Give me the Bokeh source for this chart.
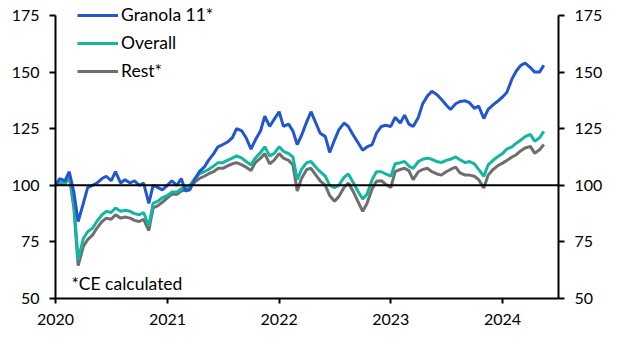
from datetime import datetime
from bokeh.plotting import figure
from bokeh.models import (ColumnDataSource, Range1d, LinearAxis, FixedTicker,
                          DatetimeTickFormatter, Span, Label, Legend, LegendItem)
from bokeh.embed import file_html
from bokeh.resources import INLINE

# semi-monthly observation dates (1st and 15th), Jan 2020 .. mid-May 2024
years = [2020, 2021, 2022, 2023, 2024]
dates = [datetime(y, m, d) for y in years for m in range(1, 13) for d in (1, 15)
         if datetime(y, m, d) <= datetime(2024, 5, 15)]

granola = [
    # 2020
    100, 103, 102, 106, 97, 84, 92, 99, 100, 101, 103, 104, 102, 106, 101, 102.5, 101, 102, 100, 101, 92, 100, 99, 98,
    # 2021
    100, 102, 100, 103, 97.5, 98, 103, 106, 108, 111, 114, 117, 118, 119, 121, 125, 124, 121, 116, 120, 124, 130.5, 126, 129,
    # 2022
    132.5, 126, 127, 124, 118, 122, 128, 132.5, 127.5, 123, 121.5, 114.5, 120, 124.5, 127.5, 126, 122, 119, 115.5, 117, 118, 123, 126, 126.5,
    # 2023
    126, 130, 127.5, 131, 127, 126, 130, 136, 139.5, 141.5, 140, 138, 135.5, 133.5, 136, 137, 137.3, 136.5, 134, 135, 129.5, 133.5, 135.5, 137,
    # 2024
    139, 141, 147, 150.5, 153, 154, 152, 150, 150, 153,
]
overall = [
    # 2020
    100, 101.5, 101, 104.5, 92, 67, 76.5, 79.5, 81, 84, 87, 88.5, 88, 90, 88.5, 89, 88.5, 87.5, 87, 88, 82, 92, 93, 94.5,
    # 2021
    95.5, 97, 97, 98.5, 99, 100, 103, 105, 106, 107, 108.5, 110, 110, 111, 112, 113, 112, 110.5, 109, 112, 114.5, 117, 113, 114,
    # 2022
    117, 115, 114, 112.5, 102.5, 107, 110, 110.5, 108, 106, 104, 100, 99, 100, 103.5, 105, 101, 97.5, 94, 96, 102.5, 106, 106, 105,
    # 2023
    104, 109.5, 110, 110.5, 108.5, 107.5, 110.5, 111.5, 112, 111.5, 110.5, 110, 111, 111.5, 112.5, 111.3, 110, 110.5, 109.5, 107, 104, 109, 111, 112.5,
    # 2024
    114, 116, 117, 118.6, 120, 121.5, 122.5, 119.5, 121, 123.8,
]
rest = [
    # 2020
    100, 101, 100.5, 104, 90, 64.5, 73, 76, 78, 81, 84, 85.5, 85, 87, 85.5, 86, 85.5, 84.5, 84, 85, 80, 90, 91, 92.5,
    # 2021
    94.5, 96, 96, 97.5, 98, 99, 101.5, 103, 104, 105, 106, 107.5, 107.5, 108.5, 109.5, 110, 109, 108, 106.5, 110, 112, 114, 109.5, 111,
    # 2022
    114, 112, 111, 109, 97.5, 103, 107, 107.5, 104.5, 102, 100, 95.5, 93, 95, 99, 101, 97, 93, 88.5, 92, 98.5, 101.8, 102, 100.5,
    # 2023
    99, 106, 107, 107.5, 106.5, 102.5, 106, 107, 107.5, 106, 105, 104.5, 106, 107, 108, 105.5, 104.5, 104.5, 104, 102.5, 98.8, 104.5, 107, 108.5,
    # 2024
    109.8, 111, 112.5, 113.5, 115.3, 116.5, 117.2, 114.2, 115.7, 118,
]
series_names = ["Granola 11*", "Overall", "Rest*"]
series_colors = ["#2256D0", "#14B5A2", "#6E6E6E"]
y_ticks = [50, 75, 100, 125, 150, 175]
x_tick_years = [2020, 2021, 2022, 2023, 2024]
note = "*CE calculated"

FONT = "Lato"
FS = "16px"
FS_TEXT = "17.5px"

src = ColumnDataSource(dict(x=dates, g=granola, o=overall, r=rest))

# frame top sits a little above the 175 tick so the legend is not clipped;
# the axes themselves are bounded to 50..175
p = figure(width=619, height=344, output_backend="svg", toolbar_location=None,
           x_axis_type="datetime",
           x_range=Range1d(datetime(2020, 1, 1), datetime(2024, 7, 2)),
           y_range=Range1d(50, 180.3),
           min_border_left=55, min_border_right=61, min_border_top=3, min_border_bottom=46)
p.outline_line_color = None
p.grid.grid_line_color = None
p.background_fill_color = "white"
p.border_fill_color = "white"

# baseline at 100
p.add_layout(Span(location=100, dimension="width", line_color="black", line_width=2))

r_rest = p.line("x", "r", source=src, line_color=series_colors[2], line_width=3)
r_over = p.line("x", "o", source=src, line_color=series_colors[1], line_width=3)
r_gran = p.line("x", "g", source=src, line_color=series_colors[0], line_width=3)

legend = Legend(items=[LegendItem(label=series_names[0], renderers=[r_gran]),
                       LegendItem(label=series_names[1], renderers=[r_over]),
                       LegendItem(label=series_names[2], renderers=[r_rest])],
                location=(22, 217), padding=0, margin=0, spacing=7,
                glyph_width=41, glyph_height=20, label_height=20, label_standoff=3,
                border_line_color=None, background_fill_alpha=0,
                label_text_font=FONT, label_text_font_size=FS_TEXT, label_text_color="black")
p.add_layout(legend, "center")

# x axis
xa = p.xaxis[0]
xa.ticker = FixedTicker(ticks=[datetime(y, 1, 1).timestamp() * 1000 for y in x_tick_years])
xa.formatter = DatetimeTickFormatter(years="%Y", months="%Y", days="%Y", hours="%Y")

# y axes
p.yaxis[0].ticker = FixedTicker(ticks=y_ticks)
ra = LinearAxis(ticker=FixedTicker(ticks=y_ticks))
p.add_layout(ra, "right")

for ax in [xa, p.yaxis[0], ra]:
    ax.axis_line_color = "black"
    ax.axis_line_width = 2
    ax.major_tick_line_color = "black"
    ax.major_tick_line_width = 2
    ax.major_tick_in = 0
    ax.major_tick_out = 6
    ax.minor_tick_line_color = None
    ax.major_label_text_font = FONT
    ax.major_label_text_font_size = FS
    ax.major_label_text_color = "black"
    ax.major_label_standoff = 10
xa.major_tick_out = 5
p.yaxis[0].bounds = (50, 175)
ra.bounds = (50, 175)

p.add_layout(Label(x=datetime(2020, 2, 22), y=56.8, text=note, text_font=FONT,
                   text_font_size=FS_TEXT, text_baseline="middle", text_color="black"))

open("out.html", "w").write(file_html(p, INLINE))
